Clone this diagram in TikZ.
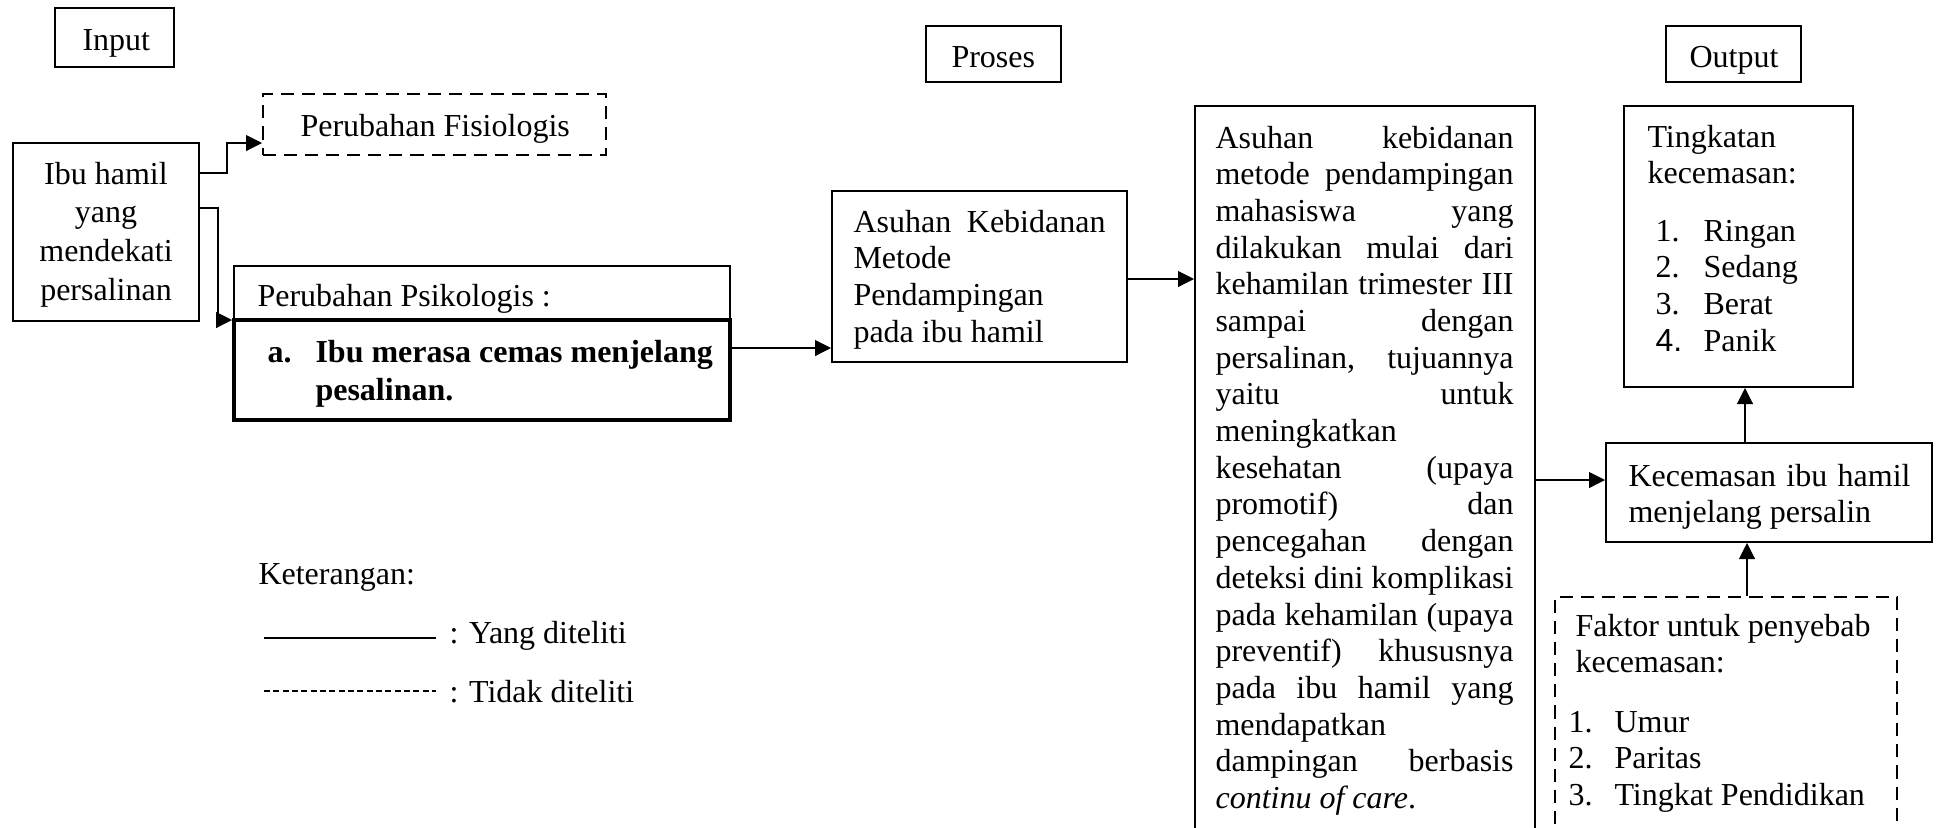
\documentclass[tikz,border=0pt]{standalone}
\usepackage{fontspec}
\setmainfont{Liberation Serif}
\newfontfamily\sansnum{Liberation Sans}
\usetikzlibrary{arrows.meta,fit}
\begin{document}
\begin{tikzpicture}[x=0.375pt,y=-0.375pt,
  box/.style={draw, line width=0.75pt, inner sep=0pt},
  dbox/.style={draw, line width=0.75pt, inner sep=0pt, dash pattern=on 4.9pt off 3pt},
  thinbox/.style={draw, line width=0.6pt, inner sep=0pt},
  thickbox/.style={draw, line width=1.5pt, inner sep=0pt, fill=white},
  txt/.style={inner sep=0pt, anchor=base west, font=\fontsize{12}{13.76}\selectfont},
  conn/.style={line width=0.4pt, -{Triangle[length=6pt,width=6pt]}},
  legline/.style={line width=0.4pt},
]
\clip (0,0) rectangle (1936,827);
\fill[white] (0,0) rectangle (1936,827);

% header boxes
\node[box, fit={(55,8) (174,67)}] (input) {};
\node[txt] (inputT) at (82,50) {Input};
\node[box, fit={(926,26) (1061,82)}] (proses) {};
\node[txt] (prosesT) at (951,67) {Proses};
\node[box, fit={(1666,26) (1801,82)}] (output) {};
\node[txt] (outputT) at (1689,67) {Output};

% input column
\node[box, fit={(13,143) (199,321)}] (ibu) {};
\node[txt, anchor=base, font=\fontsize{12}{14.6}\selectfont] (ibuT) at (106,184)
  {\parbox[t]{63.75pt}{\centering Ibu hamil\\yang\\mendekati\\persalinan}};

\node[dbox, fit={(263,94) (606,155)}] (fisio) {};
\node[txt] (fisioT) at (300,136) {Perubahan Fisiologis};

\node[thinbox, fit={(234,266) (730,320)}] (psikhead) {};
\node[txt] (psikheadT) at (257,306) {Perubahan Psikologis :};
\node[thickbox, fit={(234,320) (730,420)}] (psik) {};
\node[txt] (psikA) at (267,362) {\bfseries a.};
\node[txt, font=\fontsize{12}{14.25}\selectfont\bfseries] (psikT) at (315,362)
  {\parbox[t]{160pt}{Ibu merasa cemas menjelang\\pesalinan.}};

% process column
\node[box, fit={(832,191) (1127,362)}] (asuhan) {};
\node[txt] (asuhanT) at (853,232)
  {\parbox[t]{94.5pt}{Asuhan\hfill Kebidanan\\Metode\\Pendampingan\\pada ibu hamil}};

\node[box, fit={(1195,106) (1535,900)}] (big) {};
\node[txt] (bigT) at (1215,148)
  {\parbox[t]{111.75pt}{%
  Asuhan\hfill kebidanan\\
  metode\hfill pendampingan\\
  mahasiswa\hfill yang\\
  dilakukan\hfill mulai\hfill dari\\
  kehamilan\hfill trimester\hfill III\\
  sampai\hfill dengan\\
  persalinan,\hfill tujuannya\\
  yaitu\hfill untuk\\
  meningkatkan\\
  kesehatan\hfill (upaya\\
  promotif)\hfill dan\\
  pencegahan\hfill dengan\\
  deteksi\hfill dini\hfill komplikasi\\
  pada\hfill kehamilan\hfill (upaya\\
  preventif)\hfill khususnya\\
  pada\hfill ibu\hfill hamil\hfill yang\\
  mendapatkan\\
  dampingan\hfill berbasis\\
  \textit{continu of care}.}};

% output column
\node[box, fit={(1624,106) (1853,387)}] (ting) {};
\node[txt] (tingT) at (1647,147) {\parbox[t]{80pt}{Tingkatan\\kecemasan:}};
\node[txt] (tingL) at (1655,241)
  {\parbox[t]{70pt}{\makebox[18pt][l]{1.}Ringan\\\makebox[18pt][l]{2.}Sedang\\
  \makebox[18pt][l]{3.}Berat\\\makebox[18pt][l]{\sansnum 4.}Panik}};

\node[box, fit={(1606,443) (1932,542)}] (kecem) {};
\node[txt] (kecemT) at (1628,486)
  {\parbox[t]{105.75pt}{Kecemasan\hfill ibu\hfill hamil\\menjelang persalin}};

\node[dbox, fit={(1555,597) (1897,900)}] (faktor) {};
\node[txt] (faktorT) at (1575,636) {\parbox[t]{120pt}{Faktor untuk penyebab\\kecemasan:}};
\node[txt] (faktorL) at (1568,732)
  {\parbox[t]{120pt}{\makebox[17.25pt][l]{1.}Umur\\\makebox[17.25pt][l]{2.}Paritas\\
  \makebox[17.25pt][l]{3.}Tingkat Pendidikan}};

% connectors
\draw[conn] (ibu.east |- 0,173) -- (227,173) -- (227,143) -- (fisio.west |- 0,143);
\draw[conn] (ibu.east |- 0,208) -- (218,208) -- (218,320) -- (psik.west |- 0,320);
\draw[conn] (psik.east |- 0,348) -- (asuhan.west |- 0,348);
\draw[conn] (asuhan.east |- 0,279) -- (big.west |- 0,279);
\draw[conn] (big.east |- 0,480) -- (kecem.west |- 0,480);
\draw[conn] (kecem.north -| 1745,0) -- (ting.south -| 1745,0);
\draw[conn] (faktor.north -| 1747,0) -- (kecem.south -| 1747,0);

% legend
\node[txt] (ket) at (258,584) {Keterangan:};
\coordinate (l1a) at (264,638);
\coordinate (l1b) at (436,638);
\draw[legline] (l1a) -- (l1b);
\node[txt] (ket1) at (449,643) {: Yang diteliti};
\coordinate (l2a) at (264,691);
\coordinate (l2b) at (436,691);
\draw[legline, dash pattern=on 2.2pt off 1.3pt] (l2a) -- (l2b);
\node[txt] (ket2) at (449,702) {: Tidak diteliti};
\end{tikzpicture}
\end{document}
